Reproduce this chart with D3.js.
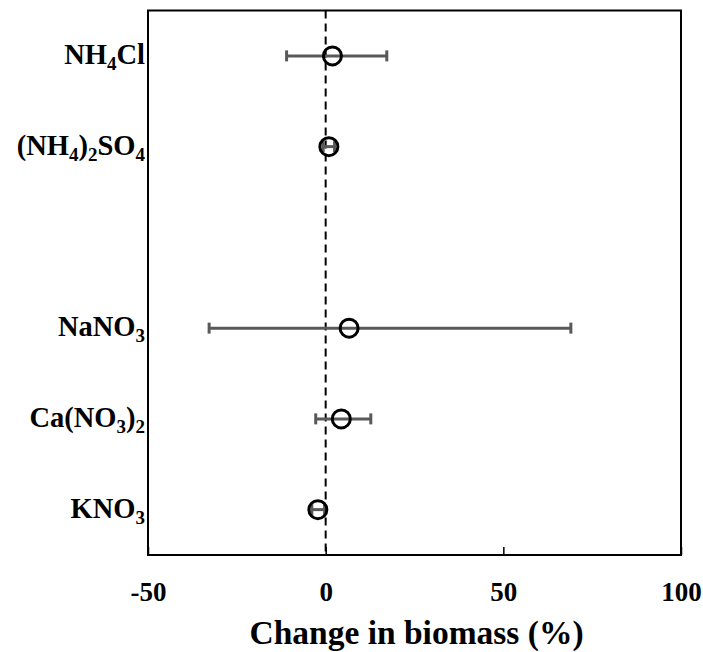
<!DOCTYPE html>
<html>
<head>
<meta charset="utf-8">
<script src="https://cdn.jsdelivr.net/npm/d3@7"></script>
<style>
  body { margin: 0; background: #fff; }
  text { font-family: "Liberation Serif", "Times New Roman", serif; font-weight: bold; fill: #000; }
</style>
</head>
<body>
<svg id="chart" width="703" height="652"></svg>
<script>
// row order top to bottom, "" marks the empty slot between the two groups
const categories = ["NH4Cl", "(NH4)2SO4", "", "NaNO3", "Ca(NO3)2", "KNO3"];
const means = [1.9, 0.9, null, 6.6, 4.4, -2.2];
const lower = [-11.0, -0.7, null, -32.8, -2.8, -3.9];
const upper = [17.2, 2.5, null, 69.0, 12.7, -0.3];
const xTicks = [-50, 0, 50, 100];

const svg = d3.select("#chart");
const margin = { top: 10.5, right: 22, bottom: 97, left: 148 };
const width = +svg.attr("width");
const height = +svg.attr("height");
const innerW = width - margin.left - margin.right;
const innerH = height - margin.top - margin.bottom;

const rows = categories
  .map((name, i) => ({ slot: "s" + i, name, mean: means[i], lo: lower[i], hi: upper[i] }));

const x = d3.scaleLinear().domain([-50, 100]).range([0, innerW]);
const y = d3.scalePoint().domain(rows.map((d) => d.slot)).range([0, innerH]).padding(0.5);

const g = svg.append("g").attr("transform", "translate(" + margin.left + "," + margin.top + ")");

// x axis, ticks pointing inwards, plain hyphen for negatives
const xAxis = g
  .append("g")
  .attr("transform", "translate(0," + innerH + ")")
  .call(
    d3.axisBottom(x)
      .tickValues(xTicks)
      .tickFormat((d) => String(d))
      .tickSizeInner(-8)
      .tickSizeOuter(0)
      .tickPadding(27)
  );
xAxis.select(".domain").remove();
xAxis.selectAll(".tick line").attr("stroke", "#000").attr("stroke-width", 1.5);
xAxis.selectAll(".tick text").attr("font-size", 27).attr("font-family", null);

// zero line
g.append("line")
  .attr("x1", x(0))
  .attr("x2", x(0))
  .attr("y1", 0)
  .attr("y2", innerH)
  .attr("stroke", "#000")
  .attr("stroke-width", 2)
  .attr("stroke-dasharray", "8,5");

// frame
g.append("rect")
  .attr("width", innerW)
  .attr("height", innerH)
  .attr("fill", "none")
  .attr("stroke", "#000")
  .attr("stroke-width", 2);

const data = rows.filter((d) => d.name !== "");

// error bars
const bars = g.selectAll(".err").data(data).enter().append("g").attr("class", "err");
bars
  .append("line")
  .attr("x1", (d) => x(d.lo))
  .attr("x2", (d) => x(d.hi))
  .attr("y1", (d) => y(d.slot))
  .attr("y2", (d) => y(d.slot))
  .attr("stroke", "#595959")
  .attr("stroke-width", 3);
["lo", "hi"].forEach((k) => {
  bars
    .append("line")
    .attr("x1", (d) => x(d[k]))
    .attr("x2", (d) => x(d[k]))
    .attr("y1", (d) => y(d.slot) - 5.5)
    .attr("y2", (d) => y(d.slot) + 5.5)
    .attr("stroke", "#595959")
    .attr("stroke-width", 3);
});

// means
g.selectAll(".pt")
  .data(data)
  .enter()
  .append("circle")
  .attr("class", "pt")
  .attr("cx", (d) => x(d.mean))
  .attr("cy", (d) => y(d.slot))
  .attr("r", 9)
  .attr("fill", "none")
  .attr("stroke", "#000")
  .attr("stroke-width", 3);

// category labels, digits as subscripts
const labels = g
  .selectAll(".cat")
  .data(data)
  .enter()
  .append("text")
  .attr("class", "cat")
  .attr("x", -3)
  .attr("y", (d) => y(d.slot) + 8)
  .attr("text-anchor", "end")
  .attr("font-size", 28.5);
labels.each(function (d) {
  const t = d3.select(this);
  let low = false;
  d.name.split(/(\d+)/).filter((s) => s !== "").forEach((part) => {
    const isSub = /^\d+$/.test(part);
    const shift = isSub && !low ? 6 : !isSub && low ? -6 : 0;
    t.append("tspan")
      .attr("dy", shift)
      .attr("font-size", isSub ? 19 : 28.5)
      .text(part);
    low = isSub;
  });
});

// axis title
svg
  .append("text")
  .attr("x", margin.left + innerW / 2 + 2)
  .attr("y", 644)
  .attr("text-anchor", "middle")
  .attr("font-size", 33.5)
  .text("Change in biomass (%)");
</script>
</body>
</html>
